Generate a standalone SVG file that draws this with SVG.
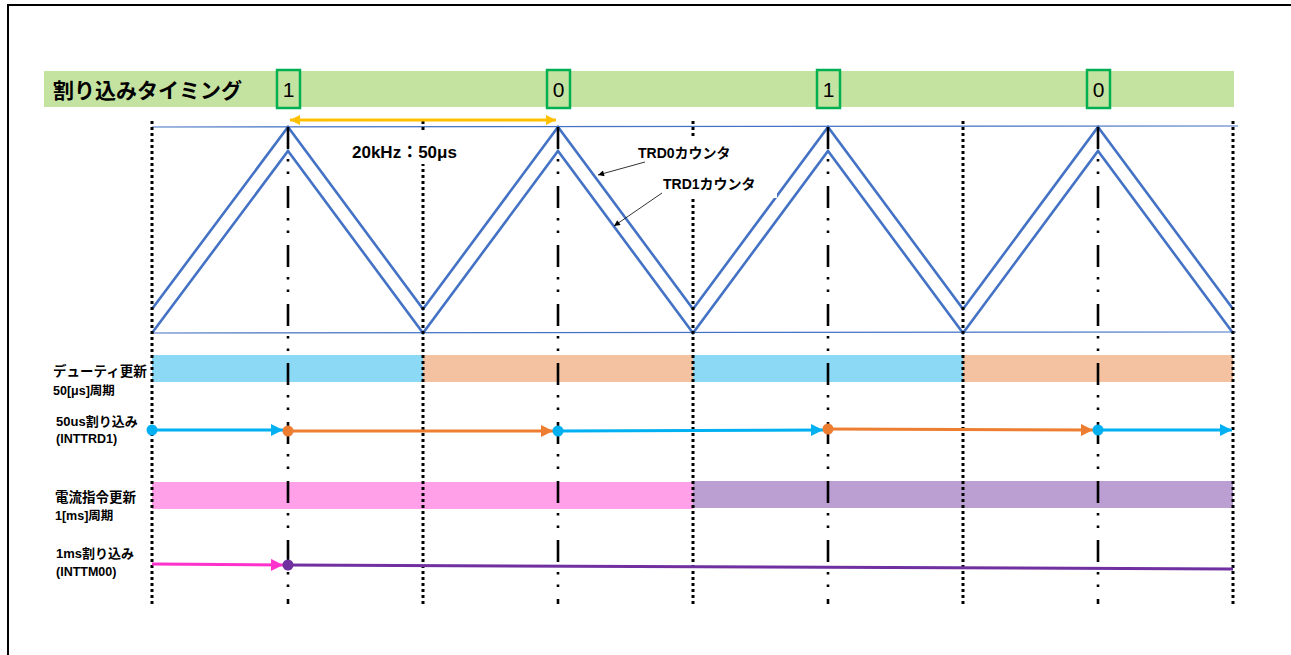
<svg xmlns="http://www.w3.org/2000/svg" width="1291" height="655" viewBox="0 0 1291 655">
  <style>
    .lbl { font-family: "Liberation Sans", "Noto Sans CJK JP", sans-serif; font-weight: bold; fill: #000; }
    .num { font-family: "Liberation Sans", "Noto Sans CJK JP", sans-serif; font-size: 21px; fill: #000; }
    .numbox { fill: none; stroke: #00b050; stroke-width: 2.5; }
    .grid-dot { stroke: #000; stroke-width: 3; stroke-dasharray: 3 3; fill: none; }
    .grid-dash { stroke: #000; stroke-width: 2.6; stroke-dasharray: 22 10 2.5 10 2.5 12; fill: none; }
    .wave { fill: none; stroke: #4472c4; stroke-width: 2.6; stroke-linejoin: miter; }
    .rail { stroke: #4472c4; stroke-width: 1.2; }
    .ev { stroke-width: 3; fill: none; }
    .bg { fill: #fff; }
  </style>
  <defs>
    <marker id="arrYellow" viewBox="0 0 10 10" refX="10" refY="5" markerUnits="userSpaceOnUse" markerWidth="12" markerHeight="10" orient="auto-start-reverse">
      <path d="M0,0 L10,5 L0,10 z" fill="#ffc000"/>
    </marker>
    <marker id="arrBlue" viewBox="0 0 10 10" refX="10" refY="5" markerUnits="userSpaceOnUse" markerWidth="13" markerHeight="12" orient="auto">
      <path d="M0,0 L10,5 L0,10 z" fill="#00b0f0"/>
    </marker>
    <marker id="arrOrange" viewBox="0 0 10 10" refX="10" refY="5" markerUnits="userSpaceOnUse" markerWidth="13" markerHeight="12" orient="auto">
      <path d="M0,0 L10,5 L0,10 z" fill="#ed7d31"/>
    </marker>
    <marker id="arrPink" viewBox="0 0 10 10" refX="10" refY="5" markerUnits="userSpaceOnUse" markerWidth="13" markerHeight="12" orient="auto">
      <path d="M0,0 L10,5 L0,10 z" fill="#ff33cc"/>
    </marker>
    <marker id="arrThin" viewBox="0 0 10 10" refX="10" refY="5" markerUnits="userSpaceOnUse" markerWidth="9" markerHeight="6" orient="auto">
      <path d="M0,0 L10,5 L0,10 z" fill="#000"/>
    </marker>
  </defs>

  <rect width="1291" height="655" fill="#fff"/>
  <!-- frame -->
  <path d="M8,655 L8,5 L1291,5" fill="none" stroke="#000" stroke-width="2"/>

  <!-- interrupt timing band -->
  <g id="timing-band">
    <rect x="44" y="71" width="1190" height="36" fill="#c5e3a0"/>
    <text class="lbl" x="53" y="98" font-size="21">割り込みタイミング</text>
  </g>
  <g id="tick-1a">
    <rect class="numbox" x="277" y="70" width="23" height="38"/>
    <text class="num" x="288.5" y="97" text-anchor="middle">1</text>
  </g>
  <g id="tick-0a">
    <rect class="numbox" x="547" y="70" width="23" height="38"/>
    <text class="num" x="558.5" y="97" text-anchor="middle">0</text>
  </g>
  <g id="tick-1b">
    <rect class="numbox" x="817" y="70" width="23" height="38"/>
    <text class="num" x="828.5" y="97" text-anchor="middle">1</text>
  </g>
  <g id="tick-0b">
    <rect class="numbox" x="1087" y="70" width="23" height="38"/>
    <text class="num" x="1098.5" y="97" text-anchor="middle">0</text>
  </g>

  <!-- duty update bands -->
  <g id="duty-bands">
    <rect x="152" y="355" width="271" height="27" fill="#8cd9f6"/>
    <rect x="423" y="355" width="270" height="27" fill="#f4c2a0"/>
    <rect x="693" y="355" width="270" height="27" fill="#8cd9f6"/>
    <rect x="963" y="355" width="270" height="27" fill="#f4c2a0"/>
  </g>
  <!-- current command bands -->
  <g id="current-bands">
    <rect x="152" y="482" width="541" height="27" fill="#ffa0e9"/>
    <rect x="693" y="481" width="540" height="27" fill="#bb9fd2"/>
  </g>

  <!-- counter waveforms -->
  <g id="counters">
    <line class="rail" x1="152" y1="127" x2="1238" y2="126"/>
    <line class="rail" x1="152" y1="333" x2="1236" y2="332"/>
    <polyline id="trd0" class="wave" points="152,309 288,127 423,309 558,127 693,309 828,127 963,309 1098,127 1233,309"/>
    <polyline id="trd1" class="wave" points="152,333 288,151 423,333 558,151 693,333 828,151 963,333 1098,151 1233,333"/>
  </g>

  <!-- vertical guides -->
  <g id="guides">
    <line class="grid-dot" x1="152" y1="121" x2="152" y2="604"/>
    <line class="grid-dot" x1="423" y1="121" x2="423" y2="604"/>
    <line class="grid-dot" x1="693" y1="121" x2="693" y2="604"/>
    <line class="grid-dot" x1="963" y1="121" x2="963" y2="604"/>
    <line class="grid-dot" x1="1233" y1="121" x2="1233" y2="604"/>
    <line class="grid-dash" x1="288" y1="127" x2="288" y2="604"/>
    <line class="grid-dash" x1="558" y1="127" x2="558" y2="604"/>
    <line class="grid-dash" x1="828" y1="127" x2="828" y2="604"/>
    <line class="grid-dash" x1="1098" y1="127" x2="1098" y2="604"/>
  </g>

  <!-- period annotation -->
  <g id="period">
    <line x1="290" y1="120" x2="556" y2="120" stroke="#ffc000" stroke-width="3" marker-start="url(#arrYellow)" marker-end="url(#arrYellow)"/>
    <rect class="bg" x="346" y="133" width="124" height="31"/>
    <text class="lbl" x="352" y="158" font-size="17">20kHz：50μs</text>
  </g>

  <!-- counter labels (white boxes behind them) -->
  <g id="label-trd0">
    <rect class="bg" x="636" y="138" width="141" height="30"/>
    <text class="lbl" x="638" y="158" font-size="14">TRD0カウンタ</text>
  </g>
  <g id="label-trd1">
    <rect class="bg" x="660" y="168" width="117" height="30"/>
    <text class="lbl" x="663" y="189" font-size="14">TRD1カウンタ</text>
  </g>

  <!-- row labels -->
  <g id="label-duty">
    <text class="lbl" x="53" y="376" font-size="13.5">デューティ更新</text>
    <text class="lbl" x="53" y="395" font-size="12.5">50[μs]周期</text>
  </g>
  <g id="label-50us">
    <text class="lbl" x="56" y="426" font-size="13">50us割り込み</text>
    <text class="lbl" x="56" y="443" font-size="12.5">(INTTRD1)</text>
  </g>
  <g id="label-current">
    <text class="lbl" x="55" y="502" font-size="13.5">電流指令更新</text>
    <text class="lbl" x="55" y="520" font-size="12.5">1[ms]周期</text>
  </g>
  <g id="label-1ms">
    <text class="lbl" x="56" y="558" font-size="13">1ms割り込み</text>
    <text class="lbl" x="56" y="576" font-size="12.5">(INTTM00)</text>
  </g>

  <!-- connectors -->
  <g id="connectors">
    <line x1="645" y1="162" x2="598" y2="175" stroke="#000" stroke-width="0.8" marker-end="url(#arrThin)"/>
    <line x1="662" y1="193" x2="614" y2="226" stroke="#000" stroke-width="0.8" marker-end="url(#arrThin)"/>

    <line class="ev" x1="152" y1="430" x2="283" y2="430" stroke="#00b0f0" marker-end="url(#arrBlue)"/>
    <line class="ev" x1="288" y1="431" x2="553" y2="431" stroke="#ed7d31" marker-end="url(#arrOrange)"/>
    <line class="ev" x1="558" y1="431" x2="823" y2="430" stroke="#00b0f0" marker-end="url(#arrBlue)"/>
    <line class="ev" x1="828" y1="429" x2="1093" y2="430" stroke="#ed7d31" marker-end="url(#arrOrange)"/>
    <line class="ev" x1="1098" y1="430" x2="1232" y2="430" stroke="#00b0f0" marker-end="url(#arrBlue)"/>

    <line class="ev" x1="152" y1="564" x2="283" y2="565" stroke="#ff33cc" marker-end="url(#arrPink)"/>
    <line class="ev" x1="288" y1="565" x2="1233" y2="569" stroke="#7030a0"/>
  </g>

  <!-- event markers -->
  <g id="events">
    <circle cx="152" cy="430" r="5.5" fill="#00b0f0"/>
    <circle cx="288" cy="431" r="5.5" fill="#ed7d31"/>
    <circle cx="558" cy="431" r="5.5" fill="#00b0f0"/>
    <circle cx="828" cy="429" r="5.5" fill="#ed7d31"/>
    <circle cx="1098" cy="430" r="5.5" fill="#00b0f0"/>
    <circle cx="288" cy="565" r="5.5" fill="#7030a0"/>
  </g>
</svg>
